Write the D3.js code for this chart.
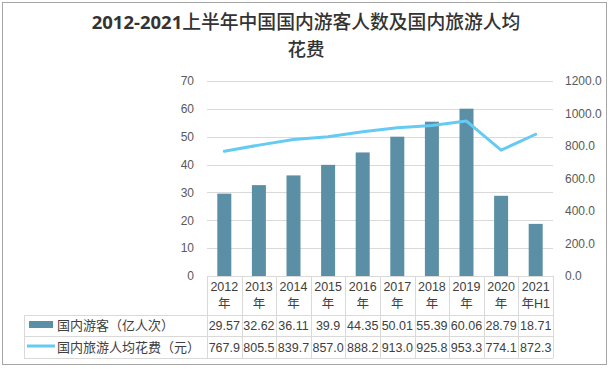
<!DOCTYPE html>
<html><head><meta charset="utf-8">
<script src="https://cdn.jsdelivr.net/npm/d3@7"></script>
<style>body{margin:0;background:#fff}svg{display:block}</style>
</head><body>
<script>
const yearsTop = ["2012","2013","2014","2015","2016","2017","2018","2019","2020","2021"];
const yearsBottom = ["年","年","年","年","年","年","年","年","年","年H1"];
const visitors = [29.57,32.62,36.11,39.9,44.35,50.01,55.39,60.06,28.79,18.71];
const visitorLabels = ["29.57","32.62","36.11","39.9","44.35","50.01","55.39","60.06","28.79","18.71"];
const spend = [767.9,805.5,839.7,857.0,888.2,913.0,925.8,953.3,774.1,872.3];
const leftTicks = [0,10,20,30,40,50,60,70];
const rightTicks = [0,200,400,600,800,1000,1200];
const seriesNames = ["国内游客（亿人次）","国内旅游人均花费（元）"];
const titleA = "2012-2021", titleB = "上半年中国国内游客人数及国内旅游人均", titleC = "花费";

const W=611,H=369;
const barColor="#5B8FA5", lineColor="#66CBF3", gridColor="#d9d9d9", textColor="#404040", axisText="#595959";
const font="'Liberation Sans','Noto Sans CJK SC',sans-serif";
const svg=d3.select("body").append("svg").attr("width",W).attr("height",H);
svg.append("rect").attr("x",2.5).attr("y",2.5).attr("width",604).attr("height",362).attr("fill","#fff").attr("stroke","#a6a6a6");

// title
const t=svg.append("text").attr("x",306).attr("y",29).attr("text-anchor","middle")
  .attr("font-family","'Noto Sans CJK SC',sans-serif").attr("font-size",18.8).attr("fill","#333");
t.append("tspan").attr("font-weight","bold").attr("font-family","'Open Sans','Noto Sans CJK SC',sans-serif").attr("font-size",18.5).text(titleA);
t.append("tspan").attr("font-weight",500).text(titleB);
svg.append("text").attr("x",306).attr("y",56).attr("text-anchor","middle")
  .attr("font-family","'Noto Sans CJK SC',sans-serif").attr("font-size",18.5).attr("font-weight",500).attr("fill","#333").text(titleC);

const x0=207,x1=553,yTop=81,yBot=276;
const x=d3.scaleBand().domain(yearsTop).range([x0,x1]).paddingInner(0).paddingOuter(0);
const yL=d3.scaleLinear().domain([0,70]).range([yBot,yTop]);
const yR=d3.scaleLinear().domain([0,1200]).range([yBot,yTop]);

// grid
svg.append("g").selectAll("line").data(leftTicks.filter(d=>d>0)).join("line")
  .attr("x1",x0).attr("x2",x1).attr("y1",d=>Math.round(yL(d))+0.5).attr("y2",d=>Math.round(yL(d))+0.5)
  .attr("stroke",gridColor);

// left axis
const gl=svg.append("g").attr("transform",`translate(${x0},0)`)
  .call(d3.axisLeft(yL).tickValues(leftTicks).tickSize(0).tickPadding(13));
gl.select(".domain").remove();
gl.selectAll("text").attr("font-family",font).attr("font-size",12).attr("fill",axisText);
// right axis
const gr=svg.append("g").attr("transform",`translate(${x1},0)`)
  .call(d3.axisRight(yR).tickValues(rightTicks).tickFormat(d3.format(".1f")).tickSize(0).tickPadding(12));
gr.select(".domain").remove();
gr.selectAll("text").attr("font-family",font).attr("font-size",12).attr("fill",axisText);

// bars
const bw=14;
svg.append("g").selectAll("rect").data(visitors).join("rect")
  .attr("x",(d,i)=>x(yearsTop[i])+x.bandwidth()/2-bw/2).attr("width",bw)
  .attr("y",d=>yL(d)).attr("height",d=>yBot-yL(d)).attr("fill",barColor);

// line
const line=d3.line().x((d,i)=>x(yearsTop[i])+x.bandwidth()/2).y(d=>yR(d));
svg.append("path").datum(spend).attr("d",line).attr("fill","none")
  .attr("stroke",lineColor).attr("stroke-width",3).attr("stroke-linejoin","round").attr("stroke-linecap","round");

// table
const r0=276,r1=315,r2=336,r3=358,tl=24;
const tg=svg.append("g").attr("stroke",gridColor).attr("shape-rendering","crispEdges");
tg.append("line").attr("x1",x0).attr("x2",x1).attr("y1",r0+.5).attr("y2",r0+.5);
[r1,r2,r3].forEach(r=>tg.append("line").attr("x1",tl).attr("x2",x1).attr("y1",r+.5).attr("y2",r+.5));
tg.append("line").attr("x1",tl+.5).attr("x2",tl+.5).attr("y1",r1).attr("y2",r3);
tg.selectAll("line.v").data(yearsTop.concat(["end"])).join("line")
  .attr("x1",(d,i)=>Math.round(x0+i*x.bandwidth())+.5).attr("x2",(d,i)=>Math.round(x0+i*x.bandwidth())+.5)
  .attr("y1",r0).attr("y2",r3);

const cx=i=>x(yearsTop[i])+x.bandwidth()/2;
const tt=svg.append("g").attr("font-family",font).attr("font-size",12.5).attr("fill",textColor).attr("text-anchor","middle");
tt.selectAll("text.a").data(yearsTop).join("text").attr("x",(d,i)=>cx(i)).attr("y",291).text(d=>d);
tt.selectAll("text.b").data(yearsBottom).join("text").attr("x",(d,i)=>cx(i)).attr("y",308).text(d=>d);
tt.selectAll("text.c").data(visitorLabels).join("text").attr("x",(d,i)=>cx(i)).attr("y",330).text(d=>d);
tt.selectAll("text.d").data(spend).join("text").attr("x",(d,i)=>cx(i)).attr("y",352).text(d=>d.toFixed(1));

// legend keys
svg.append("rect").attr("x",29).attr("y",321).attr("width",24).attr("height",7).attr("fill",barColor);
svg.append("line").attr("x1",27).attr("x2",55).attr("y1",346).attr("y2",346).attr("stroke",lineColor).attr("stroke-width",3);
svg.selectAll("text.leg").data(seriesNames).join("text")
  .attr("x",57).attr("y",(d,i)=>330+i*22).attr("font-family","'Noto Sans CJK SC',sans-serif")
  .attr("font-size",13).attr("fill",textColor).text(d=>d);
</script>
</body></html>
